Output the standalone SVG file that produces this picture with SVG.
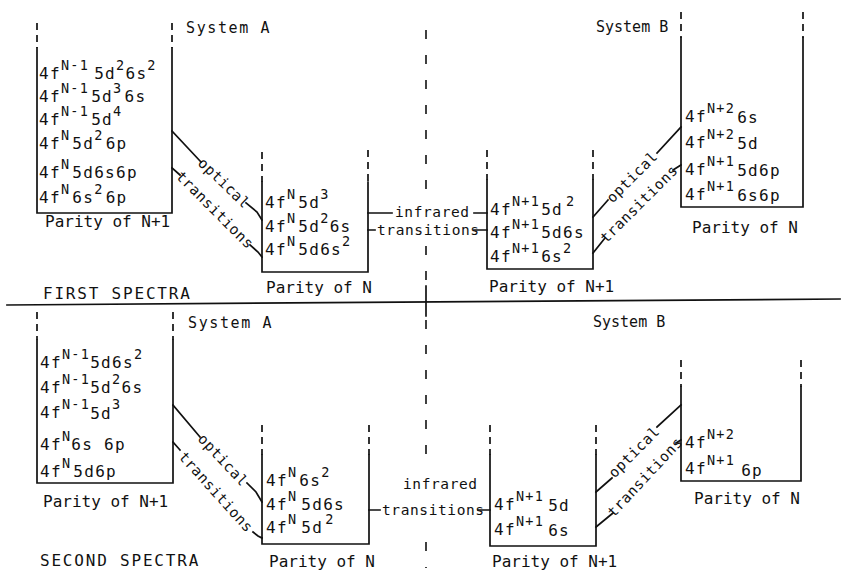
<svg xmlns="http://www.w3.org/2000/svg" width="841" height="571" viewBox="0 0 841 571">
  <style>
    .ln { fill: none; stroke: #111; stroke-width: 1.7; stroke-linecap: square; }
    .dash { fill: none; stroke: #111; stroke-width: 1.7; stroke-dasharray: 7 5; }
    .cdash { fill: none; stroke: #111; stroke-width: 1.6; stroke-dasharray: 9 16; }
    text { font-family: "DejaVu Sans Mono", "Liberation Mono", monospace; fill: #111; }
    .t { font-size: 16px; letter-spacing: 1.3px; }
    .u { font-size: 13.5px; }
    .p { font-size: 16px; letter-spacing: 0px; }
    .h { font-size: 15px; letter-spacing: 1.6px; }
    .hb { font-size: 15px; letter-spacing: 0px; }
    .s { font-size: 16px; letter-spacing: 1.8px; }
    .lbl { font-size: 14.5px; letter-spacing: 0.6px; }
  </style>

  <!-- separators and headings -->
  <g id="frame">
    <path class="ln" d="M7 305 L840 299"/>
    <path class="cdash" d="M426 30 V203 M426 246 V282 M426 320 V470 M426 542 V568"/>
    <path class="ln" d="M426 286 V316"/>
    <text class="h" x="186" y="33">System A</text>
    <text class="hb" x="596" y="32">System B</text>
    <text class="s" x="43" y="299">FIRST SPECTRA</text>
    <text class="h" x="188" y="328">System A</text>
    <text class="hb" x="593" y="327">System B</text>
    <text class="s" x="40" y="566" letter-spacing="2.1">SECOND SPECTRA</text>
  </g>

  <!-- first spectra, system A, parity N+1 -->
  <g id="a1">
    <path class="dash" d="M37 23 V48 M172 23 V48"/>
    <path class="ln" d="M37 48 V213 H172 V48"/>
    <text class="t" x="39" y="79">4f<tspan class="u" dy="-9">N-1</tspan><tspan dy="9" dx="5">5d</tspan><tspan class="u" dy="-9">2</tspan><tspan dy="9">6s</tspan><tspan class="u" dy="-9">2</tspan></text>
    <text class="t" x="39" y="102">4f<tspan class="u" dy="-9">N-1</tspan><tspan dy="9" dx="2">5d</tspan><tspan class="u" dy="-9">3</tspan><tspan dy="9" dx="2">6s</tspan></text>
    <text class="t" x="39" y="125">4f<tspan class="u" dy="-9">N-1</tspan><tspan dy="9" dx="2">5d</tspan><tspan class="u" dy="-9">4</tspan></text>
    <text class="t" x="39" y="149">4f<tspan class="u" dy="-9">N</tspan><tspan dy="9" dx="2">5d</tspan><tspan class="u" dy="-9">2</tspan><tspan dy="9" dx="2">6p</tspan></text>
    <text class="t" x="39" y="178">4f<tspan class="u" dy="-9">N</tspan><tspan dy="9" dx="2">5d6s6p</tspan></text>
    <text class="t" x="39" y="203">4f<tspan class="u" dy="-9">N</tspan><tspan dy="9" dx="2">6s</tspan><tspan class="u" dy="-9">2</tspan><tspan dy="9" dx="2">6p</tspan></text>
    <text class="p" x="45" y="227">Parity of N+1</text>
  </g>

  <!-- first spectra, system A, parity N -->
  <g id="a2">
    <path class="dash" d="M262 152 V182 M368 150 V182"/>
    <path class="ln" d="M262 182 V272 H368 V182"/>
    <text class="t" x="265" y="208">4f<tspan class="u" dy="-9">N</tspan><tspan dy="9" dx="2">5d</tspan><tspan class="u" dy="-9">3</tspan></text>
    <text class="t" x="265" y="232">4f<tspan class="u" dy="-9">N</tspan><tspan dy="9" dx="2">5d</tspan><tspan class="u" dy="-9">2</tspan><tspan dy="9">6s</tspan></text>
    <text class="t" x="265" y="255">4f<tspan class="u" dy="-9">N</tspan><tspan dy="9" dx="2">5d6s</tspan><tspan class="u" dy="-9">2</tspan></text>
    <text class="p" x="266" y="293">Parity of N</text>
  </g>

  <!-- first spectra, system B, parity N+1 -->
  <g id="b1">
    <path class="dash" d="M487 150 V180 M593 150 V180"/>
    <path class="ln" d="M487 180 V269 H593 V180"/>
    <text class="t" x="490" y="215">4f<tspan class="u" dy="-9">N+1</tspan><tspan dy="9" dx="1">5d</tspan><tspan class="u" dy="-9" dx="3">2</tspan></text>
    <text class="t" x="490" y="238">4f<tspan class="u" dy="-9">N+1</tspan><tspan dy="9" dx="1">5d6s</tspan></text>
    <text class="t" x="490" y="262">4f<tspan class="u" dy="-9">N+1</tspan><tspan dy="9" dx="1">6s</tspan><tspan class="u" dy="-9">2</tspan></text>
    <text class="p" x="489" y="292">Parity of N+1</text>
  </g>

  <!-- first spectra, system B, parity N -->
  <g id="b2">
    <path class="dash" d="M681 12 V38 M803 12 V38"/>
    <path class="ln" d="M681 38 V207 H803 V38"/>
    <text class="t" x="685" y="122">4f<tspan class="u" dy="-9">N+2</tspan><tspan dy="10" dx="2">6s</tspan></text>
    <text class="t" x="685" y="148">4f<tspan class="u" dy="-9">N+2</tspan><tspan dy="10" dx="2">5d</tspan></text>
    <text class="t" x="685" y="175">4f<tspan class="u" dy="-9">N+1</tspan><tspan dy="10" dx="2">5d6p</tspan></text>
    <text class="t" x="685" y="200">4f<tspan class="u" dy="-9">N+1</tspan><tspan dy="10" dx="2">6s6p</tspan></text>
    <text class="p" x="692" y="233">Parity of N</text>
  </g>

  <!-- second spectra, system A, parity N+1 -->
  <g id="a3">
    <path class="dash" d="M37 312 V340 M173 312 V340"/>
    <path class="ln" d="M37 340 V483 H173 V340"/>
    <text class="t" x="40" y="368">4f<tspan class="u" dy="-9">N-1</tspan><tspan dy="9">5d6s</tspan><tspan class="u" dy="-9">2</tspan></text>
    <text class="t" x="40" y="393">4f<tspan class="u" dy="-9">N-1</tspan><tspan dy="9">5d</tspan><tspan class="u" dy="-9">2</tspan><tspan dy="9">6s</tspan></text>
    <text class="t" x="40" y="418">4f<tspan class="u" dy="-9">N-1</tspan><tspan dy="10">5d</tspan><tspan class="u" dy="-10">3</tspan></text>
    <text class="t" x="40" y="450">4f<tspan class="u" dy="-9">N</tspan><tspan dy="9">6s 6p</tspan></text>
    <text class="t" x="40" y="477">4f<tspan class="u" dy="-9">N</tspan><tspan dy="9" dx="2">5d6p</tspan></text>
    <text class="p" x="43" y="507">Parity of N+1</text>
  </g>

  <!-- second spectra, system A, parity N -->
  <g id="a4">
    <path class="dash" d="M262 425 V455 M369 425 V455"/>
    <path class="ln" d="M262 455 V544 H369 V455"/>
    <text class="t" x="266" y="486">4f<tspan class="u" dy="-9">N</tspan><tspan dy="9" dx="2">6s</tspan><tspan class="u" dy="-9">2</tspan></text>
    <text class="t" x="266" y="510">4f<tspan class="u" dy="-9">N</tspan><tspan dy="9" dx="4">5d6s</tspan></text>
    <text class="t" x="266" y="533">4f<tspan class="u" dy="-9">N</tspan><tspan dy="9" dx="4">5d</tspan><tspan class="u" dy="-9" dx="2">2</tspan></text>
    <text class="p" x="269" y="567">Parity of N</text>
  </g>

  <!-- second spectra, system B, parity N+1 -->
  <g id="b3">
    <path class="dash" d="M490 425 V455 M596 425 V455"/>
    <path class="ln" d="M490 455 V546 H596 V455"/>
    <text class="t" x="494" y="510">4f<tspan class="u" dy="-9">N+1</tspan><tspan dy="10" dx="4">5d</tspan></text>
    <text class="t" x="494" y="535">4f<tspan class="u" dy="-9">N+1</tspan><tspan dy="10" dx="4">6s</tspan></text>
    <text class="p" x="492" y="567">Parity of N+1</text>
  </g>

  <!-- second spectra, system B, parity N -->
  <g id="b4">
    <path class="dash" d="M681 360 V387 M801 360 V387"/>
    <path class="ln" d="M681 387 V481 H801 V387"/>
    <text class="t" x="685" y="448">4f<tspan class="u" dy="-9">N+2</tspan></text>
    <text class="t" x="685" y="474">4f<tspan class="u" dy="-9">N+1</tspan><tspan dy="11" dx="6">6p</tspan></text>
    <text class="p" x="694" y="504">Parity of N</text>
  </g>

  <!-- transitions between the parity groups -->
  <g id="connectors">
    <!-- first spectra, system A -->
    <path class="ln" d="M172 131 L201 162 M246 203 L257 212 L262 220"/>
    <path class="ln" d="M172 168 L180 175 M250 245 L258 252 L262 257"/>
    <text class="lbl" text-anchor="middle" transform="translate(224 183) rotate(44)" dy="5">optical</text>
    <text class="lbl" text-anchor="middle" transform="translate(215 210) rotate(45)" dy="5">transitions</text>

    <!-- first spectra, infrared -->
    <path class="ln" d="M368 213 H392 M474 213 H487"/>
    <path class="ln" d="M368 230 H375 M474 230 H487"/>
    <text class="lbl" x="395" y="217" letter-spacing="2">infrared</text>
    <text class="lbl" x="377" y="235">transitions</text>

    <!-- first spectra, system B -->
    <path class="ln" d="M593 217 L608 200 M657 153 L681 127"/>
    <path class="ln" d="M593 253 L605 238 M673 170 L681 165"/>
    <text class="lbl" text-anchor="middle" transform="translate(632 177) rotate(-45)" dy="5">optical</text>
    <text class="lbl" text-anchor="middle" transform="translate(639 204) rotate(-45)" dy="5">transitions</text>

    <!-- second spectra, system A -->
    <path class="ln" d="M173 405 L200 437 M247 483 L256 492 L262 502"/>
    <path class="ln" d="M173 442 L180 450 M253 532 L258 536 L262 538"/>
    <text class="lbl" text-anchor="middle" transform="translate(223 460) rotate(47)" dy="5">optical</text>
    <text class="lbl" text-anchor="middle" transform="translate(216 492) rotate(48)" dy="5">transitions</text>

    <!-- second spectra, infrared -->
    <path class="ln" d="M369 510 H380 M478 510 H490"/>
    <text class="lbl" x="403" y="489" letter-spacing="2">infrared</text>
    <text class="lbl" x="382" y="515">transitions</text>

    <!-- second spectra, system B -->
    <path class="ln" d="M596 492 L612 478 M657 427 L681 405"/>
    <path class="ln" d="M596 527 L613 513 M676 443 L681 440"/>
    <text class="lbl" text-anchor="middle" transform="translate(634 452) rotate(-45)" dy="5">optical</text>
    <text class="lbl" text-anchor="middle" transform="translate(645 477) rotate(-47)" dy="5">transitions</text>
  </g>
</svg>
